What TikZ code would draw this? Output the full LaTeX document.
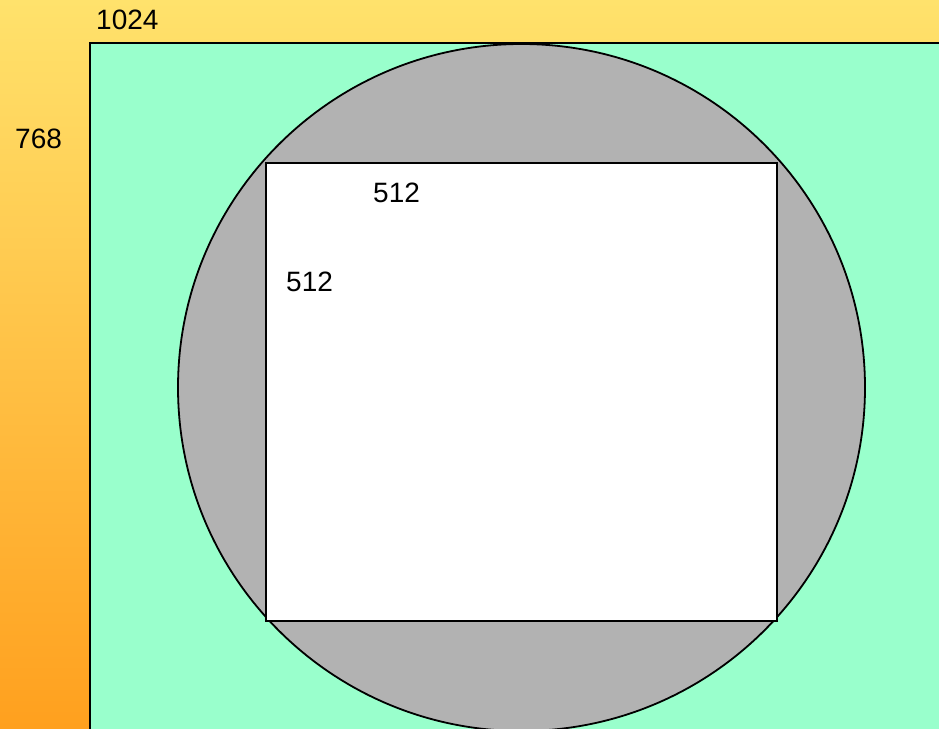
\documentclass[tikz,border=0pt]{standalone}
\usepackage{fontspec}
\setmainfont{Liberation Sans}
\definecolor{bgtop}{HTML}{FFE26C}
\definecolor{bgbot}{HTML}{FFA01E}
\definecolor{mint}{HTML}{99FFCC}
\definecolor{greyfill}{HTML}{B2B2B2}
\begin{document}
\begin{tikzpicture}[x=1pt,y=-1pt,
  lbl/.style={font=\fontsize{28}{30}\selectfont, inner sep=0pt, anchor=west, text=black},
  outline/.style={draw=black, line width=1.8pt}]
\useasboundingbox (0,0) rectangle (939,728);
\clip (0,0) rectangle (939,728);
\shade[top color=bgtop, bottom color=bgbot] (0,0) rectangle (939,728);
\path[fill=mint, outline] (90,43) rectangle (960,760);
\path[fill=greyfill, outline] (521.5,387.5) circle[radius=343.5];
\path[fill=white, outline] (266,163) rectangle (777,621);
\node[lbl] (w) at (96,20) {1024};
\node[lbl] (h) at (15,139) {768};
\node[lbl] (sw) at (373,193) {512};
\node[lbl] (sh) at (286,282) {512};
\end{tikzpicture}
\end{document}
